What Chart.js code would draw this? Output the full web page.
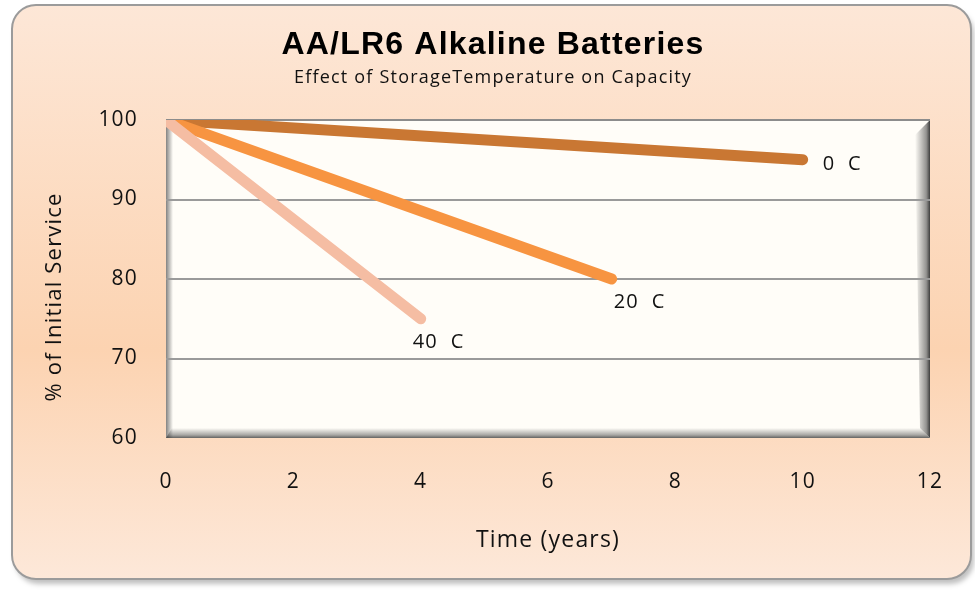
<!DOCTYPE html>
<html>
<head>
<meta charset="utf-8">
<script src="https://cdn.jsdelivr.net/npm/chart.js@4"></script>
<style>
  html, body { margin: 0; padding: 0; background: #fff; }
  #wrap { width: 975px; height: 590px; }
</style>
</head>
<body>
<div id="wrap"><canvas id="capChart" width="975" height="590"></canvas></div>
<script>
// ---- data ----
const seriesNames = ['40 C', '20 C', '0 C'];
const years40 = [0, 4];
const capacity40 = [100, 75];
const years20 = [0, 7];
const capacity20 = [100, 80];
const years0 = [0, 10];
const capacity0 = [100, 95];
const xTicks = [0, 2, 4, 6, 8, 10, 12];
const yTicks = [60, 70, 80, 90, 100];
const yTitle = '% of Initial Service';

const toPoints = (xs, ys) => xs.map((x, i) => ({ x: x, y: ys[i] }));
const FONT = '"Open Sans", sans-serif';

// ----------------------------------------------------
// Background: rounded peach panel + bevelled plot area
// ----------------------------------------------------
const panelPlugin = {
    id: 'panel',
    beforeDraw(chart) {
        const ctx = chart.ctx;
        const x0 = 12, y0 = 5, x1 = 971, y1 = 579, r = 24;

        ctx.save();
        ctx.beginPath();
        ctx.roundRect(x0, y0, x1 - x0, y1 - y0, r);
        ctx.shadowColor = 'rgba(0,0,0,0.25)';
        ctx.shadowOffsetX = 3;
        ctx.shadowOffsetY = 5;
        ctx.shadowBlur = 5;
        const bg = ctx.createLinearGradient(0, y0, 0, y1);
        bg.addColorStop(0, '#fde7d7');
        bg.addColorStop(0.6, '#fcd3b1');
        bg.addColorStop(1, '#fde8d9');
        ctx.fillStyle = bg;
        ctx.fill();
        ctx.shadowColor = 'transparent';
        ctx.lineWidth = 2;
        ctx.strokeStyle = '#9b9b9b';
        ctx.stroke();
        ctx.restore();

        // the original text is slightly tracked out
        ctx.letterSpacing = '1.2px';
    }
};

const plotPlugin = {
    id: 'plotBox',
    beforeDraw(chart) {
        const { ctx, chartArea: a } = chart;
        const w = a.right - a.left, h = a.bottom - a.top;
        ctx.save();
        ctx.fillStyle = '#fffdf8';
        ctx.fillRect(a.left, a.top, w, h);

        // left inner shadow
        let g = ctx.createLinearGradient(a.left, 0, a.left + 7, 0);
        g.addColorStop(0, 'rgba(90,90,90,0.75)');
        g.addColorStop(1, 'rgba(90,90,90,0)');
        ctx.fillStyle = g;
        ctx.fillRect(a.left, a.top, 7, h);

        // right bevel
        g = ctx.createLinearGradient(a.right - 15, 0, a.right, 0);
        g.addColorStop(0, 'rgba(60,60,60,0)');
        g.addColorStop(0.75, 'rgba(60,60,60,0.55)');
        g.addColorStop(1, 'rgba(50,50,50,0.95)');
        ctx.fillStyle = g;
        ctx.beginPath();
        ctx.moveTo(a.right - 15, a.top + 15);
        ctx.lineTo(a.right, a.top);
        ctx.lineTo(a.right, a.bottom);
        ctx.lineTo(a.right - 10, a.bottom - 10);
        ctx.closePath();
        ctx.fill();

        // bottom bevel
        g = ctx.createLinearGradient(0, a.bottom - 10, 0, a.bottom);
        g.addColorStop(0, 'rgba(60,60,60,0)');
        g.addColorStop(0.7, 'rgba(60,60,60,0.45)');
        g.addColorStop(1, 'rgba(60,60,60,0.8)');
        ctx.fillStyle = g;
        ctx.beginPath();
        ctx.moveTo(a.left + 6, a.bottom - 10);
        ctx.lineTo(a.right - 10, a.bottom - 10);
        ctx.lineTo(a.right, a.bottom);
        ctx.lineTo(a.left, a.bottom);
        ctx.closePath();
        ctx.fill();

        // top edge
        ctx.strokeStyle = '#8c8c8c';
        ctx.lineWidth = 2;
        ctx.beginPath();
        ctx.moveTo(a.left, a.top);
        ctx.lineTo(a.right, a.top);
        ctx.stroke();
        ctx.restore();
    }
};

// ----------------------------------------------------
// Series names at the line ends + rotated y title
// ----------------------------------------------------
const labelPlugin = {
    id: 'endLabels',
    afterDatasetsDraw(chart) {
        const ctx = chart.ctx;
        ctx.save();
        ctx.font = '20px ' + FONT;
        ctx.fillStyle = '#111';
        ctx.textBaseline = 'middle';
        ctx.textAlign = 'left';
        chart.data.datasets.forEach((ds, i) => {
            const pts = chart.getDatasetMeta(i).data;
            const last = pts[pts.length - 1];
            ctx.fillText(ds.label.replace(' ', '  '), last.x + ds.labelDx, last.y + ds.labelDy);
        });
        ctx.restore();
    },
    afterDraw(chart) {
        const ctx = chart.ctx;
        const a = chart.chartArea;
        ctx.save();
        ctx.translate(55, (a.top + a.bottom) / 2 + 18);
        ctx.rotate(-Math.PI / 2);
        ctx.font = '22px ' + FONT;
        ctx.fillStyle = '#111';
        ctx.textAlign = 'center';
        ctx.textBaseline = 'middle';
        ctx.fillText(yTitle, 0, 0);
        ctx.restore();
    }
};

const lineStyle = {
    borderWidth: 11,
    borderCapStyle: 'round',
    borderJoinStyle: 'round',
    pointRadius: 0,
    pointHoverRadius: 0,
    fill: false,
    tension: 0
};

new Chart(document.getElementById('capChart'), {
    type: 'line',
    data: {
        datasets: [
            { ...lineStyle, label: seriesNames[0], data: toPoints(years40, capacity40), borderColor: '#f5bda3', labelDx: -8, labelDy: 24 },
            { ...lineStyle, label: seriesNames[1], data: toPoints(years20, capacity20), borderColor: '#f79441', labelDx: 2, labelDy: 23 },
            { ...lineStyle, label: seriesNames[2], data: toPoints(years0, capacity0), borderColor: '#c97733', labelDx: 20, labelDy: 5 }
        ]
    },
    options: {
        responsive: false,
        animation: false,
        events: [],
        layout: { padding: { top: 10, left: 56, right: 45, bottom: 0 } },
        plugins: {
            legend: { display: false },
            tooltip: { enabled: false },
            title: {
                display: true,
                text: 'AA/LR6 Alkaline Batteries',
                color: '#000',
                font: { family: '"Liberation Sans", sans-serif', size: 32, weight: 'bold', lineHeight: 1.2 },
                padding: { top: 16, bottom: 3 }
            },
            subtitle: {
                display: true,
                text: 'Effect of StorageTemperature on Capacity',
                color: '#111',
                font: { family: FONT, size: 18, lineHeight: 1.2 },
                padding: { top: 0, bottom: 31 }
            }
        },
        scales: {
            x: {
                type: 'linear',
                min: 0,
                max: 12,
                afterBuildTicks: s => { s.ticks = xTicks.map(v => ({ value: v })); },
                afterFit: s => { s.height = 152; },
                grid: { display: false, drawTicks: false },
                border: { display: false },
                ticks: { color: '#111', padding: 31, font: { family: FONT, size: 21 } },
                title: {
                    display: true,
                    text: 'Time (years)',
                    color: '#111',
                    font: { family: FONT, size: 23, lineHeight: 1.2 },
                    padding: { top: 0, bottom: 36 }
                }
            },
            y: {
                min: 60,
                max: 100,
                afterBuildTicks: s => { s.ticks = yTicks.map(v => ({ value: v })); },
                afterFit: s => { s.width = 110; },
                grid: {
                    drawTicks: false,
                    lineWidth: 2,
                    color: ctx => (ctx.tick && (ctx.tick.value === 60 || ctx.tick.value === 100)) ? 'rgba(0,0,0,0)' : '#9a9a9a'
                },
                border: { display: false },
                ticks: { color: '#111', padding: 28, font: { family: FONT, size: 21 } },
                title: { display: false }
            }
        }
    },
    plugins: [panelPlugin, plotPlugin, labelPlugin]
});
</script>
</body>
</html>
